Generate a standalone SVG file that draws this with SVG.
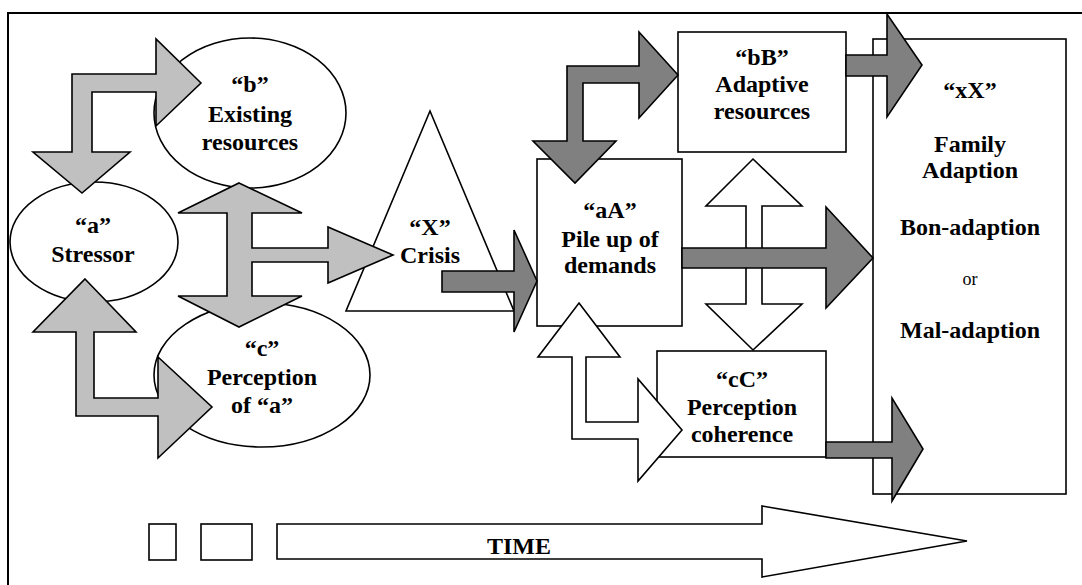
<svg xmlns="http://www.w3.org/2000/svg" width="1082" height="585" viewBox="0 0 1082 585">
<style>
.shape{fill:#ffffff;stroke:#000000;stroke-width:1.6}
.lg{fill:#c0c0c0;stroke:#000000;stroke-width:1.6;stroke-linejoin:miter}
.dg{fill:#808080;stroke:#000000;stroke-width:1.6;stroke-linejoin:miter}
.wa{fill:#ffffff;stroke:#000000;stroke-width:1.6;stroke-linejoin:miter}
text{font-family:'Liberation Serif','Times New Roman','DejaVu Serif',serif;text-anchor:middle;fill:#000}
.t{font-weight:bold;font-size:24px}
.r{font-weight:normal;font-size:18px}
</style>
<rect x="0" y="0" width="1082" height="585" fill="#ffffff"/>
<path d="M8,600 V13 H1090" fill="none" stroke="#000" stroke-width="2"/>

<g id="node-b">
<ellipse class="shape" cx="250" cy="113" rx="96" ry="75"/>
<text class="t" x="250" y="92" font-family="Liberation Serif, serif">“b”</text>
<text class="t" x="250" y="122" font-family="Liberation Serif, serif">Existing</text>
<text class="t" x="250" y="150" font-family="Liberation Serif, serif">resources</text>
</g>
<g id="node-a">
<ellipse class="shape" cx="94" cy="242" rx="84" ry="60"/>
<text class="t" x="93" y="233" font-family="Liberation Serif, serif">“a”</text>
<text class="t" x="93" y="262" font-family="Liberation Serif, serif">Stressor</text>
</g>
<g id="node-c">
<ellipse class="shape" cx="262" cy="375" rx="108" ry="72"/>
<text class="t" x="262" y="356" font-family="Liberation Serif, serif">“c”</text>
<text class="t" x="262" y="385" font-family="Liberation Serif, serif">Perception</text>
<text class="t" x="262" y="413" font-family="Liberation Serif, serif">of “a”</text>
</g>
<g id="node-X">
<polygon class="shape" points="430,111 346,311 514,311"/>
<text class="t" x="430" y="235" font-family="Liberation Serif, serif">“X”</text>
<text class="t" x="430" y="263" font-family="Liberation Serif, serif">Crisis</text>
</g>
<g id="node-aA">
<rect class="shape" x="537" y="159" width="145" height="167"/>
<text class="t" x="610" y="218" font-family="Liberation Serif, serif">“aA”</text>
<text class="t" x="610" y="247" font-family="Liberation Serif, serif">Pile up of</text>
<text class="t" x="610" y="273" font-family="Liberation Serif, serif">demands</text>
</g>
<g id="node-bB">
<rect class="shape" x="678" y="32" width="168" height="120"/>
<text class="t" x="762" y="65" font-family="Liberation Serif, serif">“bB”</text>
<text class="t" x="762" y="92" font-family="Liberation Serif, serif">Adaptive</text>
<text class="t" x="762" y="119" font-family="Liberation Serif, serif">resources</text>
</g>
<g id="node-cC">
<rect class="shape" x="657" y="351" width="169" height="106"/>
<text class="t" x="742" y="387" font-family="Liberation Serif, serif">“cC”</text>
<text class="t" x="742" y="415" font-family="Liberation Serif, serif">Perception</text>
<text class="t" x="742" y="442" font-family="Liberation Serif, serif">coherence</text>
</g>
<g id="node-xX">
<rect class="shape" x="873" y="39" width="193" height="455"/>
<text class="t" x="970" y="98" font-family="Liberation Serif, serif">“xX”</text>
<text class="t" x="970" y="152" font-family="Liberation Serif, serif">Family</text>
<text class="t" x="970" y="178" font-family="Liberation Serif, serif">Adaption</text>
<text class="t" x="970" y="235" font-family="Liberation Serif, serif">Bon-adaption</text>
<text class="r" x="970" y="285" font-family="Liberation Serif, serif">or</text>
<text class="t" x="970" y="338" font-family="Liberation Serif, serif">Mal-adaption</text>
</g>

<g id="connectors">
<polygon class="lg" points="201,83 156,39 156,74 72,74 72,152 33,152 82,193 130,152 92,152 92,92 156,92 156,126"/>
<polygon class="lg" points="239,183 302,213 252,213 252,248 328,248 328,227 393,255 328,283 328,262 252,262 252,296 302,296 239,327 178,296 227,296 227,213 178,213"/>
<polygon class="lg" points="85,279 136,332 94,332 94,398 158,398 158,357 212,407 158,458 158,416 76,416 76,332 33,332"/>
<polygon class="dg" points="442,271 514,271 514,230 537,281 514,332 514,292 442,292"/>
<polygon class="dg" points="678,75 639,32 639,66 567,66 567,141 533,141 575,183 616,141 583,141 583,83 639,83 639,118"/>
<polygon class="wa" points="753,159 802,206 762,206 762,304 802,304 753,350 706,304 746,304 746,206 706,206"/>
<polygon class="dg" points="682,248 826,248 826,207 873,258 826,308 826,268 682,268"/>
<polygon class="dg" points="846,55 887,55 887,14 922,65 887,117 887,76 846,76"/>
<polygon class="wa" points="579,303 620,357 586,357 586,422 638,422 638,379 682,430 638,481 638,439 572,439 572,357 538,357"/>
<polygon class="dg" points="826,442 892,442 892,398 923,449 892,501 892,458 826,458"/>
</g>

<g id="time">
<rect class="shape" x="149" y="524" width="27" height="36"/>
<rect class="shape" x="201" y="524" width="51" height="36"/>
<polygon class="wa" points="277,524 762,524 762,506 967,541 762,577 762,559 277,559"/>
<text class="t" x="519" y="554" font-family="Liberation Serif, serif">TIME</text>
</g>
</svg>
